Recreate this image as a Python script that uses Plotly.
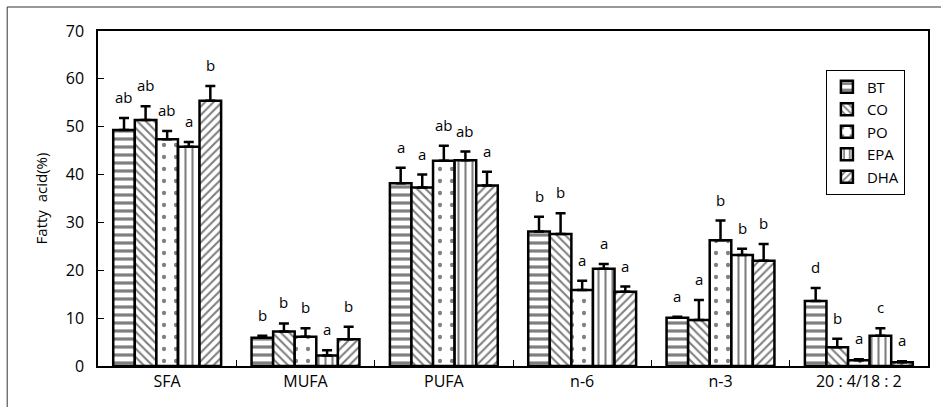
import plotly.graph_objects as go

categories = ["SFA", "MUFA", "PUFA", "n-6", "n-3", "20 : 4/18 : 2"]
groups = ["BT", "CO", "PO", "EPA", "DHA"]

values = {
    "BT":  [49.3, 5.9, 38.2, 28.1, 10.1, 13.6],
    "CO":  [51.4, 7.2, 37.3, 27.6, 9.6, 3.9],
    "PO":  [47.4, 6.1, 42.9, 15.9, 26.3, 1.2],
    "EPA": [45.8, 2.2, 43.0, 20.3, 23.2, 6.3],
    "DHA": [55.4, 5.6, 37.7, 15.5, 22.0, 0.8],
}
errors = {
    "BT":  [2.5, 0.4, 3.2, 3.1, 0.2, 2.7],
    "CO":  [2.9, 1.7, 2.7, 4.3, 4.2, 1.8],
    "PO":  [1.7, 1.8, 3.1, 1.9, 4.1, 0.2],
    "EPA": [1.0, 1.1, 1.8, 1.0, 1.3, 1.6],
    "DHA": [3.1, 2.6, 2.9, 1.1, 3.5, 0.2],
}
letters = {
    "BT":  ["ab", "b", "a", "b", "a", "d"],
    "CO":  ["ab", "b", "a", "b", "a", "b"],
    "PO":  ["ab", "b", "ab", "a", "b", "a"],
    "EPA": ["a", "a", "ab", "a", "b", "c"],
    "DHA": ["b", "b", "a", "a", "b", "a"],
}
patterns = {"BT": "-", "CO": "\\", "PO": ".", "EPA": "|", "DHA": "/"}
pat_size = {"BT": 8, "CO": 6, "PO": 12, "EPA": 7, "DHA": 6}
pat_sol = {"BT": 0.4, "CO": 0.35, "PO": 0.1, "EPA": 0.3, "DHA": 0.35}

FONT = "Open Sans"

fig = go.Figure()
for g in groups:
    fig.add_trace(go.Bar(
        name=g, x=categories, y=values[g],
        marker=dict(color="white",
                    line=dict(color="black", width=2.5),
                    pattern=dict(shape=patterns[g], fgcolor="black", bgcolor="white",
                                 size=pat_size[g], solidity=pat_sol[g])),
        error_y=dict(type="data", symmetric=False, array=errors[g],
                     arrayminus=[0] * len(categories),
                     color="black", thickness=2.5, width=5),
    ))

# significance letters
ngroups = len(groups)
bar_w = (1 - 0.22) / ngroups
annotations = []
for gi, g in enumerate(groups):
    off = -0.39 + bar_w * (gi + 0.5)
    for ci, c in enumerate(categories):
        annotations.append(dict(
            x=ci + off, y=values[g][ci] + errors[g][ci], xref="x", yref="y",
            text=letters[g][ci], showarrow=False, yanchor="bottom", yshift=9,
            font=dict(family=FONT, size=15, color="black")))

fig.update_layout(
    width=941, height=407,
    margin=dict(l=98, r=11, t=31, b=41),
    paper_bgcolor="white", plot_bgcolor="white",
    barmode="group", bargap=0.22, bargroupgap=0,
    font=dict(family=FONT, size=15, color="black"),
    showlegend=True,
    legend=dict(x=0.877, y=0.885, xanchor="left", yanchor="top",
                bordercolor="black", borderwidth=1, bgcolor="white",
                font=dict(family=FONT, size=15), itemwidth=30,
                tracegroupgap=0),
    annotations=annotations,
    shapes=[
        dict(type="line", xref="paper", yref="paper",
             x0=-0.1094, x1=-0.1094, y0=-0.13, y1=1.0716,
             line=dict(color="#333", width=1)),
        dict(type="line", xref="paper", yref="paper",
             x0=-0.1094, x1=1.02, y0=1.0716, y1=1.0716,
             line=dict(color="#333", width=1)),
    ],
)
fig.update_xaxes(type="category", showline=True, linecolor="black", linewidth=1.5,
                 mirror=True, ticks="inside", tickson="boundaries", ticklen=6,
                 tickcolor="black", showgrid=False,
                 tickfont=dict(family=FONT, size=16))
fig.update_yaxes(range=[0, 70], dtick=10, showline=True, linecolor="black", linewidth=1.5,
                 mirror=True, ticks="inside", ticklen=6, tickcolor="black",
                 showgrid=False, zeroline=False, ticklabelstandoff=9,
                 title=dict(text="Fatty  acid(%)", font=dict(family=FONT, size=15), standoff=15),
                 tickfont=dict(family=FONT, size=16))

fig.write_html("out.html", config={"displayModeBar": False},
               post_script="document.body.style.margin='0';")
